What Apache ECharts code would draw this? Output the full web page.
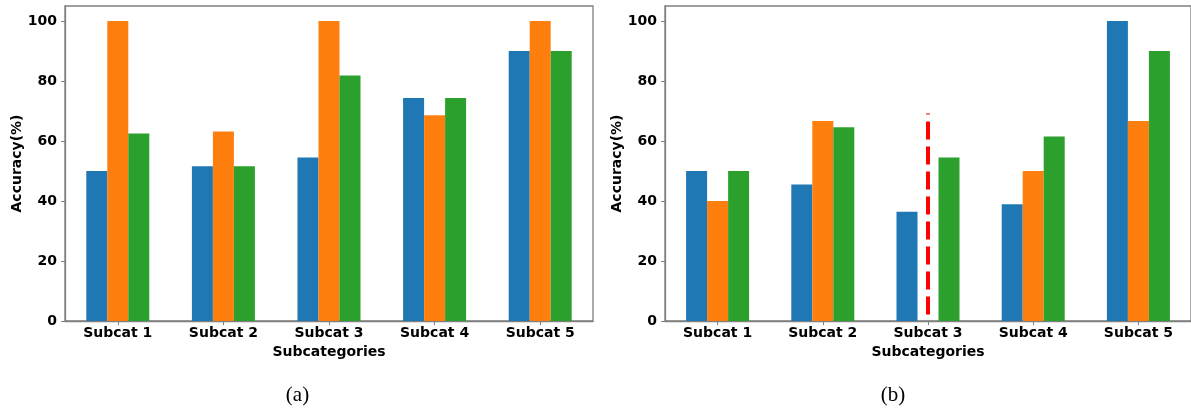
<!DOCTYPE html>
<html>
<head>
<meta charset="utf-8">
<script src="https://cdn.jsdelivr.net/npm/echarts@6/dist/echarts.min.js"></script>
<style>
html,body{margin:0;padding:0;background:#fff;}
#chart{width:1191px;height:408px;}
</style>
</head>
<body>
<div id="chart"></div>
<script>
// ---- data ----
var categories = ['Subcat 1', 'Subcat 2', 'Subcat 3', 'Subcat 4', 'Subcat 5'];
var yTicks = [0, 20, 40, 60, 80, 100];
// panel (a)
var aBlue   = [50.0, 51.6, 54.5, 74.3, 90.0];
var aOrange = [100.0, 63.2, 100.0, 68.6, 100.0];
var aGreen  = [62.5, 51.6, 81.8, 74.3, 90.0];
// panel (b)
var bBlue   = [50.0, 45.5, 36.4, 38.9, 100.0];
var bOrange = [40.0, 66.7, null, 50.0, 66.7];
var bGreen  = [50.0, 64.6, 54.5, 61.5, 90.0];
// red dashed marker in panel (b)
var redLineCategory = 'Subcat 3';
var redLineRange = [2.2, 69.2];
var captions = ['(a)', '(b)'];

var colors = ['#1f77b4', '#ff7f0e', '#2ca02c'];
var font = 'DejaVu Sans';
var axisColor = '#7f7f7f';

function xAxisFor(gi) {
  return {
    type: 'category', gridIndex: gi, data: categories,
    name: 'Subcategories', nameLocation: 'middle', nameGap: 23,
    nameTextStyle: {fontFamily: font, fontWeight: 'bold', fontSize: 14, color: '#000'},
    axisLine: {show: true, lineStyle: {color: axisColor, width: 1.3}},
    axisTick: {show: true, alignWithLabel: true, length: 4, lineStyle: {color: axisColor, width: 1}},
    axisLabel: {fontFamily: font, fontWeight: 'bold', fontSize: 14, color: '#000', margin: 5},
    splitLine: {show: false}
  };
}
function yAxisFor(gi) {
  return {
    type: 'value', gridIndex: gi, min: 0, max: 105, interval: 20,
    name: 'Accuracy(%)', nameLocation: 'middle', nameGap: 40,
    nameTextStyle: {fontFamily: font, fontWeight: 'bold', fontSize: 14, color: '#000'},
    axisLine: {show: true, lineStyle: {color: axisColor, width: 1.3}},
    axisTick: {show: true, length: 4, customValues: yTicks, lineStyle: {color: axisColor, width: 1}},
    axisLabel: {fontFamily: font, fontWeight: 'bold', fontSize: 14, color: '#000', margin: 8, customValues: yTicks},
    splitLine: {show: false}
  };
}
function barSeries(gi, data, ci) {
  return {
    type: 'bar', xAxisIndex: gi, yAxisIndex: gi, data: data,
    barWidth: 21, barGap: '0%',
    itemStyle: {color: colors[ci]}
  };
}

var chart = echarts.init(document.getElementById('chart'), null, {renderer: 'canvas'});
chart.setOption({
  animation: false,
  backgroundColor: '#fff',
  grid: [
    {left: 65, top: 6, width: 528, height: 315, show: true, borderColor: axisColor, borderWidth: 1.3, containLabel: false},
    {left: 665, top: 6, width: 528, height: 315, show: true, borderColor: axisColor, borderWidth: 1.3, containLabel: false}
  ],
  xAxis: [xAxisFor(0), xAxisFor(1)],
  yAxis: [yAxisFor(0), yAxisFor(1)],
  series: [
    barSeries(0, aBlue, 0), barSeries(0, aOrange, 1), barSeries(0, aGreen, 2),
    barSeries(1, bBlue, 0), barSeries(1, bOrange, 1), barSeries(1, bGreen, 2),
    {
      type: 'line', xAxisIndex: 1, yAxisIndex: 1,
      data: [[redLineCategory, redLineRange[0]], [redLineCategory, redLineRange[1]]],
      symbol: 'none', z: 5,
      lineStyle: {color: '#ff0000', width: 4, type: [18, 7]}
    }
  ],
  graphic: [
    {type: 'text', style: {text: captions[0], fontFamily: 'Liberation Serif', fontSize: 21, fill: '#000', textAlign: 'center', textVerticalAlign: 'middle', x: 297.5, y: 395}},
    {type: 'text', style: {text: captions[1], fontFamily: 'Liberation Serif', fontSize: 21, fill: '#000', textAlign: 'center', textVerticalAlign: 'middle', x: 893, y: 395}}
  ]
});
</script>
</body>
</html>
